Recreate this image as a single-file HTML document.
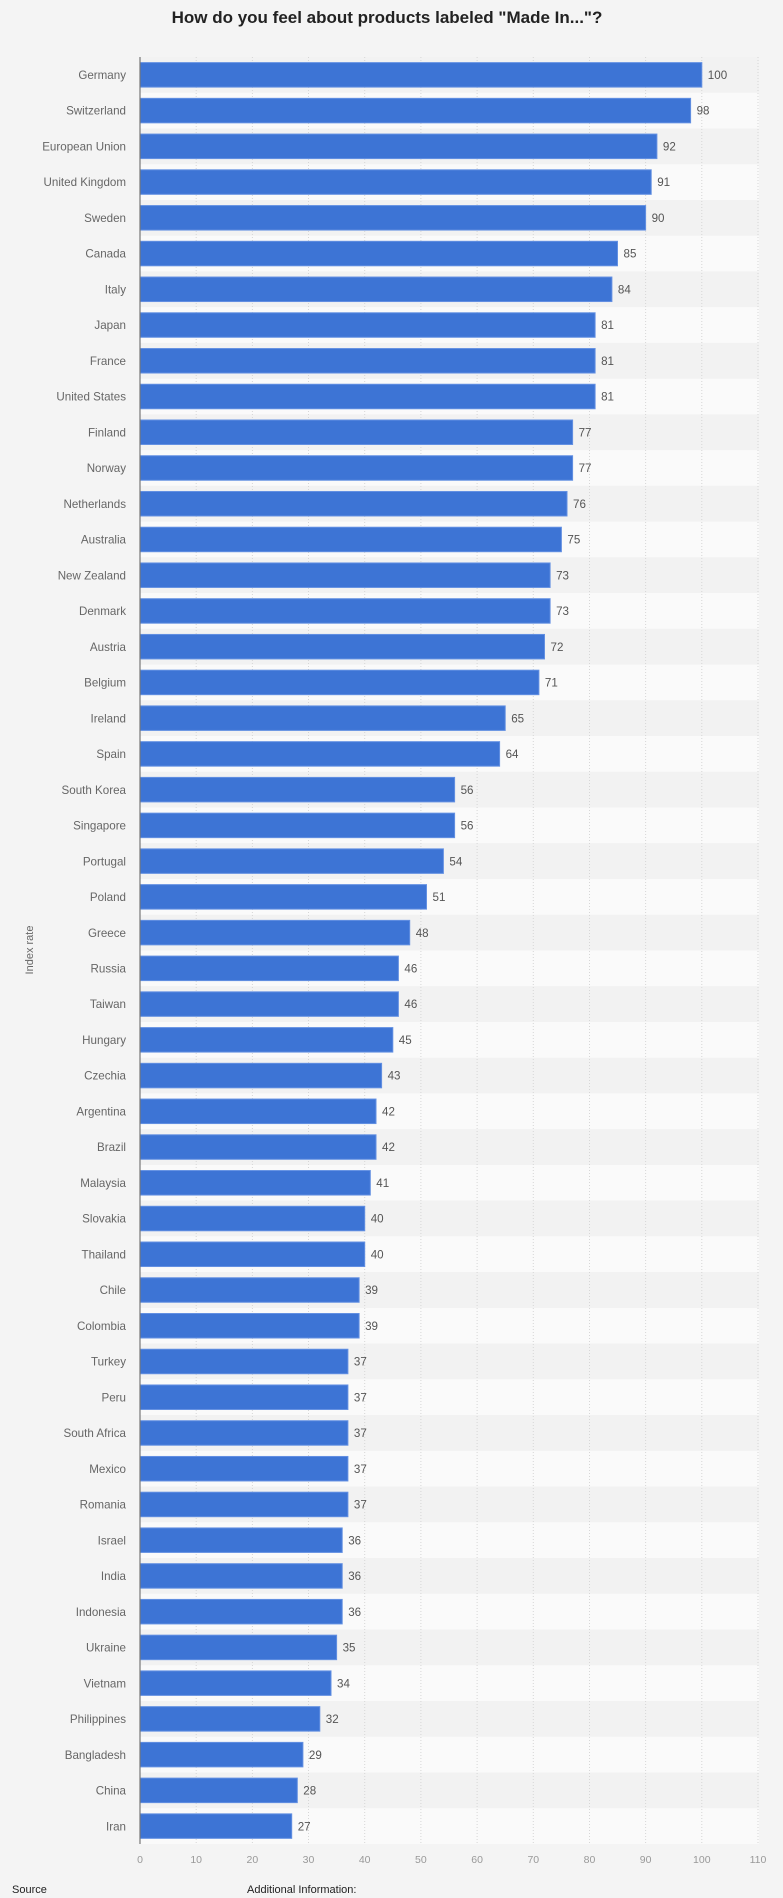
<!DOCTYPE html>
<html><head><meta charset="utf-8"><style>
html,body{margin:0;padding:0;background:#f4f4f4;}
svg{display:block;font-family:"Liberation Sans",Arial,sans-serif;}
.c{font-size:11.6px;fill:#666;text-anchor:end;}
.v{font-size:11.6px;fill:#555;}
.b{fill:#3d74d5;stroke:#6390e2;stroke-width:1;}
.o{fill:#fafafa;}
.e{fill:#f2f2f2;}
.g{stroke:#d6d6d6;stroke-width:1;stroke-dasharray:1,2;}
.t{font-size:10.5px;fill:#999;text-anchor:middle;}
</style></head><body>
<svg width="783" height="1898" viewBox="0 0 783 1898" xmlns="http://www.w3.org/2000/svg">
<rect width="783" height="1898" fill="#f4f4f4"/>
<text x="387" y="23" text-anchor="middle" font-weight="bold" font-size="17" fill="#222">How do you feel about products labeled "Made In..."?</text>

<g>
<rect class="e" x="140" y="57.00" width="619" height="35.74"/>
<rect class="o" x="140" y="92.74" width="619" height="35.74"/>
<rect class="e" x="140" y="128.48" width="619" height="35.74"/>
<rect class="o" x="140" y="164.22" width="619" height="35.74"/>
<rect class="e" x="140" y="199.96" width="619" height="35.74"/>
<rect class="o" x="140" y="235.70" width="619" height="35.74"/>
<rect class="e" x="140" y="271.44" width="619" height="35.74"/>
<rect class="o" x="140" y="307.18" width="619" height="35.74"/>
<rect class="e" x="140" y="342.92" width="619" height="35.74"/>
<rect class="o" x="140" y="378.66" width="619" height="35.74"/>
<rect class="e" x="140" y="414.40" width="619" height="35.74"/>
<rect class="o" x="140" y="450.14" width="619" height="35.74"/>
<rect class="e" x="140" y="485.88" width="619" height="35.74"/>
<rect class="o" x="140" y="521.62" width="619" height="35.74"/>
<rect class="e" x="140" y="557.36" width="619" height="35.74"/>
<rect class="o" x="140" y="593.10" width="619" height="35.74"/>
<rect class="e" x="140" y="628.84" width="619" height="35.74"/>
<rect class="o" x="140" y="664.58" width="619" height="35.74"/>
<rect class="e" x="140" y="700.32" width="619" height="35.74"/>
<rect class="o" x="140" y="736.06" width="619" height="35.74"/>
<rect class="e" x="140" y="771.80" width="619" height="35.74"/>
<rect class="o" x="140" y="807.54" width="619" height="35.74"/>
<rect class="e" x="140" y="843.28" width="619" height="35.74"/>
<rect class="o" x="140" y="879.02" width="619" height="35.74"/>
<rect class="e" x="140" y="914.76" width="619" height="35.74"/>
<rect class="o" x="140" y="950.50" width="619" height="35.74"/>
<rect class="e" x="140" y="986.24" width="619" height="35.74"/>
<rect class="o" x="140" y="1021.98" width="619" height="35.74"/>
<rect class="e" x="140" y="1057.72" width="619" height="35.74"/>
<rect class="o" x="140" y="1093.46" width="619" height="35.74"/>
<rect class="e" x="140" y="1129.20" width="619" height="35.74"/>
<rect class="o" x="140" y="1164.94" width="619" height="35.74"/>
<rect class="e" x="140" y="1200.68" width="619" height="35.74"/>
<rect class="o" x="140" y="1236.42" width="619" height="35.74"/>
<rect class="e" x="140" y="1272.16" width="619" height="35.74"/>
<rect class="o" x="140" y="1307.90" width="619" height="35.74"/>
<rect class="e" x="140" y="1343.64" width="619" height="35.74"/>
<rect class="o" x="140" y="1379.38" width="619" height="35.74"/>
<rect class="e" x="140" y="1415.12" width="619" height="35.74"/>
<rect class="o" x="140" y="1450.86" width="619" height="35.74"/>
<rect class="e" x="140" y="1486.60" width="619" height="35.74"/>
<rect class="o" x="140" y="1522.34" width="619" height="35.74"/>
<rect class="e" x="140" y="1558.08" width="619" height="35.74"/>
<rect class="o" x="140" y="1593.82" width="619" height="35.74"/>
<rect class="e" x="140" y="1629.56" width="619" height="35.74"/>
<rect class="o" x="140" y="1665.30" width="619" height="35.74"/>
<rect class="e" x="140" y="1701.04" width="619" height="35.74"/>
<rect class="o" x="140" y="1736.78" width="619" height="35.74"/>
<rect class="e" x="140" y="1772.52" width="619" height="35.74"/>
<rect class="o" x="140" y="1808.26" width="619" height="35.74"/>
</g>

<g>
<line class="g" x1="196.2" y1="57" x2="196.2" y2="1844"/>
<line class="g" x1="252.4" y1="57" x2="252.4" y2="1844"/>
<line class="g" x1="308.5" y1="57" x2="308.5" y2="1844"/>
<line class="g" x1="364.7" y1="57" x2="364.7" y2="1844"/>
<line class="g" x1="420.9" y1="57" x2="420.9" y2="1844"/>
<line class="g" x1="477.1" y1="57" x2="477.1" y2="1844"/>
<line class="g" x1="533.3" y1="57" x2="533.3" y2="1844"/>
<line class="g" x1="589.5" y1="57" x2="589.5" y2="1844"/>
<line class="g" x1="645.6" y1="57" x2="645.6" y2="1844"/>
<line class="g" x1="701.8" y1="57" x2="701.8" y2="1844"/>
<line class="g" x1="758.0" y1="57" x2="758.0" y2="1844"/>
</g>

<g transform="translate(0,57.00)"><text class="c" x="126" y="22">Germany</text><rect class="b" x="140" y="5.6" width="561.8" height="24.5"/><text class="v" x="707.8" y="22">100</text></g>
<g transform="translate(0,92.74)"><text class="c" x="126" y="22">Switzerland</text><rect class="b" x="140" y="5.6" width="550.6" height="24.5"/><text class="v" x="696.6" y="22">98</text></g>
<g transform="translate(0,128.48)"><text class="c" x="126" y="22">European Union</text><rect class="b" x="140" y="5.6" width="516.9" height="24.5"/><text class="v" x="662.9" y="22">92</text></g>
<g transform="translate(0,164.22)"><text class="c" x="126" y="22">United Kingdom</text><rect class="b" x="140" y="5.6" width="511.2" height="24.5"/><text class="v" x="657.2" y="22">91</text></g>
<g transform="translate(0,199.96)"><text class="c" x="126" y="22">Sweden</text><rect class="b" x="140" y="5.6" width="505.6" height="24.5"/><text class="v" x="651.6" y="22">90</text></g>
<g transform="translate(0,235.70)"><text class="c" x="126" y="22">Canada</text><rect class="b" x="140" y="5.6" width="477.5" height="24.5"/><text class="v" x="623.5" y="22">85</text></g>
<g transform="translate(0,271.44)"><text class="c" x="126" y="22">Italy</text><rect class="b" x="140" y="5.6" width="471.9" height="24.5"/><text class="v" x="617.9" y="22">84</text></g>
<g transform="translate(0,307.18)"><text class="c" x="126" y="22">Japan</text><rect class="b" x="140" y="5.6" width="455.1" height="24.5"/><text class="v" x="601.1" y="22">81</text></g>
<g transform="translate(0,342.92)"><text class="c" x="126" y="22">France</text><rect class="b" x="140" y="5.6" width="455.1" height="24.5"/><text class="v" x="601.1" y="22">81</text></g>
<g transform="translate(0,378.66)"><text class="c" x="126" y="22">United States</text><rect class="b" x="140" y="5.6" width="455.1" height="24.5"/><text class="v" x="601.1" y="22">81</text></g>
<g transform="translate(0,414.40)"><text class="c" x="126" y="22">Finland</text><rect class="b" x="140" y="5.6" width="432.6" height="24.5"/><text class="v" x="578.6" y="22">77</text></g>
<g transform="translate(0,450.14)"><text class="c" x="126" y="22">Norway</text><rect class="b" x="140" y="5.6" width="432.6" height="24.5"/><text class="v" x="578.6" y="22">77</text></g>
<g transform="translate(0,485.88)"><text class="c" x="126" y="22">Netherlands</text><rect class="b" x="140" y="5.6" width="427.0" height="24.5"/><text class="v" x="573.0" y="22">76</text></g>
<g transform="translate(0,521.62)"><text class="c" x="126" y="22">Australia</text><rect class="b" x="140" y="5.6" width="421.4" height="24.5"/><text class="v" x="567.4" y="22">75</text></g>
<g transform="translate(0,557.36)"><text class="c" x="126" y="22">New Zealand</text><rect class="b" x="140" y="5.6" width="410.1" height="24.5"/><text class="v" x="556.1" y="22">73</text></g>
<g transform="translate(0,593.10)"><text class="c" x="126" y="22">Denmark</text><rect class="b" x="140" y="5.6" width="410.1" height="24.5"/><text class="v" x="556.1" y="22">73</text></g>
<g transform="translate(0,628.84)"><text class="c" x="126" y="22">Austria</text><rect class="b" x="140" y="5.6" width="404.5" height="24.5"/><text class="v" x="550.5" y="22">72</text></g>
<g transform="translate(0,664.58)"><text class="c" x="126" y="22">Belgium</text><rect class="b" x="140" y="5.6" width="398.9" height="24.5"/><text class="v" x="544.9" y="22">71</text></g>
<g transform="translate(0,700.32)"><text class="c" x="126" y="22">Ireland</text><rect class="b" x="140" y="5.6" width="365.2" height="24.5"/><text class="v" x="511.2" y="22">65</text></g>
<g transform="translate(0,736.06)"><text class="c" x="126" y="22">Spain</text><rect class="b" x="140" y="5.6" width="359.6" height="24.5"/><text class="v" x="505.6" y="22">64</text></g>
<g transform="translate(0,771.80)"><text class="c" x="126" y="22">South Korea</text><rect class="b" x="140" y="5.6" width="314.6" height="24.5"/><text class="v" x="460.6" y="22">56</text></g>
<g transform="translate(0,807.54)"><text class="c" x="126" y="22">Singapore</text><rect class="b" x="140" y="5.6" width="314.6" height="24.5"/><text class="v" x="460.6" y="22">56</text></g>
<g transform="translate(0,843.28)"><text class="c" x="126" y="22">Portugal</text><rect class="b" x="140" y="5.6" width="303.4" height="24.5"/><text class="v" x="449.4" y="22">54</text></g>
<g transform="translate(0,879.02)"><text class="c" x="126" y="22">Poland</text><rect class="b" x="140" y="5.6" width="286.5" height="24.5"/><text class="v" x="432.5" y="22">51</text></g>
<g transform="translate(0,914.76)"><text class="c" x="126" y="22">Greece</text><rect class="b" x="140" y="5.6" width="269.7" height="24.5"/><text class="v" x="415.7" y="22">48</text></g>
<g transform="translate(0,950.50)"><text class="c" x="126" y="22">Russia</text><rect class="b" x="140" y="5.6" width="258.4" height="24.5"/><text class="v" x="404.4" y="22">46</text></g>
<g transform="translate(0,986.24)"><text class="c" x="126" y="22">Taiwan</text><rect class="b" x="140" y="5.6" width="258.4" height="24.5"/><text class="v" x="404.4" y="22">46</text></g>
<g transform="translate(0,1021.98)"><text class="c" x="126" y="22">Hungary</text><rect class="b" x="140" y="5.6" width="252.8" height="24.5"/><text class="v" x="398.8" y="22">45</text></g>
<g transform="translate(0,1057.72)"><text class="c" x="126" y="22">Czechia</text><rect class="b" x="140" y="5.6" width="241.6" height="24.5"/><text class="v" x="387.6" y="22">43</text></g>
<g transform="translate(0,1093.46)"><text class="c" x="126" y="22">Argentina</text><rect class="b" x="140" y="5.6" width="236.0" height="24.5"/><text class="v" x="382.0" y="22">42</text></g>
<g transform="translate(0,1129.20)"><text class="c" x="126" y="22">Brazil</text><rect class="b" x="140" y="5.6" width="236.0" height="24.5"/><text class="v" x="382.0" y="22">42</text></g>
<g transform="translate(0,1164.94)"><text class="c" x="126" y="22">Malaysia</text><rect class="b" x="140" y="5.6" width="230.3" height="24.5"/><text class="v" x="376.3" y="22">41</text></g>
<g transform="translate(0,1200.68)"><text class="c" x="126" y="22">Slovakia</text><rect class="b" x="140" y="5.6" width="224.7" height="24.5"/><text class="v" x="370.7" y="22">40</text></g>
<g transform="translate(0,1236.42)"><text class="c" x="126" y="22">Thailand</text><rect class="b" x="140" y="5.6" width="224.7" height="24.5"/><text class="v" x="370.7" y="22">40</text></g>
<g transform="translate(0,1272.16)"><text class="c" x="126" y="22">Chile</text><rect class="b" x="140" y="5.6" width="219.1" height="24.5"/><text class="v" x="365.1" y="22">39</text></g>
<g transform="translate(0,1307.90)"><text class="c" x="126" y="22">Colombia</text><rect class="b" x="140" y="5.6" width="219.1" height="24.5"/><text class="v" x="365.1" y="22">39</text></g>
<g transform="translate(0,1343.64)"><text class="c" x="126" y="22">Turkey</text><rect class="b" x="140" y="5.6" width="207.9" height="24.5"/><text class="v" x="353.9" y="22">37</text></g>
<g transform="translate(0,1379.38)"><text class="c" x="126" y="22">Peru</text><rect class="b" x="140" y="5.6" width="207.9" height="24.5"/><text class="v" x="353.9" y="22">37</text></g>
<g transform="translate(0,1415.12)"><text class="c" x="126" y="22">South Africa</text><rect class="b" x="140" y="5.6" width="207.9" height="24.5"/><text class="v" x="353.9" y="22">37</text></g>
<g transform="translate(0,1450.86)"><text class="c" x="126" y="22">Mexico</text><rect class="b" x="140" y="5.6" width="207.9" height="24.5"/><text class="v" x="353.9" y="22">37</text></g>
<g transform="translate(0,1486.60)"><text class="c" x="126" y="22">Romania</text><rect class="b" x="140" y="5.6" width="207.9" height="24.5"/><text class="v" x="353.9" y="22">37</text></g>
<g transform="translate(0,1522.34)"><text class="c" x="126" y="22">Israel</text><rect class="b" x="140" y="5.6" width="202.2" height="24.5"/><text class="v" x="348.2" y="22">36</text></g>
<g transform="translate(0,1558.08)"><text class="c" x="126" y="22">India</text><rect class="b" x="140" y="5.6" width="202.2" height="24.5"/><text class="v" x="348.2" y="22">36</text></g>
<g transform="translate(0,1593.82)"><text class="c" x="126" y="22">Indonesia</text><rect class="b" x="140" y="5.6" width="202.2" height="24.5"/><text class="v" x="348.2" y="22">36</text></g>
<g transform="translate(0,1629.56)"><text class="c" x="126" y="22">Ukraine</text><rect class="b" x="140" y="5.6" width="196.6" height="24.5"/><text class="v" x="342.6" y="22">35</text></g>
<g transform="translate(0,1665.30)"><text class="c" x="126" y="22">Vietnam</text><rect class="b" x="140" y="5.6" width="191.0" height="24.5"/><text class="v" x="337.0" y="22">34</text></g>
<g transform="translate(0,1701.04)"><text class="c" x="126" y="22">Philippines</text><rect class="b" x="140" y="5.6" width="179.8" height="24.5"/><text class="v" x="325.8" y="22">32</text></g>
<g transform="translate(0,1736.78)"><text class="c" x="126" y="22">Bangladesh</text><rect class="b" x="140" y="5.6" width="162.9" height="24.5"/><text class="v" x="308.9" y="22">29</text></g>
<g transform="translate(0,1772.52)"><text class="c" x="126" y="22">China</text><rect class="b" x="140" y="5.6" width="157.3" height="24.5"/><text class="v" x="303.3" y="22">28</text></g>
<g transform="translate(0,1808.26)"><text class="c" x="126" y="22">Iran</text><rect class="b" x="140" y="5.6" width="151.7" height="24.5"/><text class="v" x="297.7" y="22">27</text></g>

<line x1="140" y1="57" x2="140" y2="1844" stroke="#777" stroke-width="1.2"/>

<g>
<text class="t" x="140" y="1863">0</text>
<text class="t" x="196.2" y="1863">10</text>
<text class="t" x="252.4" y="1863">20</text>
<text class="t" x="308.5" y="1863">30</text>
<text class="t" x="364.7" y="1863">40</text>
<text class="t" x="420.9" y="1863">50</text>
<text class="t" x="477.1" y="1863">60</text>
<text class="t" x="533.3" y="1863">70</text>
<text class="t" x="589.5" y="1863">80</text>
<text class="t" x="645.6" y="1863">90</text>
<text class="t" x="701.8" y="1863">100</text>
<text class="t" x="758.0" y="1863">110</text>
</g>

<text transform="translate(33,950) rotate(-90)" text-anchor="middle" font-size="11" fill="#666">Index rate</text>

<text x="12" y="1893" font-size="11" fill="#222">Source</text>
<text x="247" y="1893" font-size="11" fill="#222">Additional Information:</text>
</svg>
</body></html>
